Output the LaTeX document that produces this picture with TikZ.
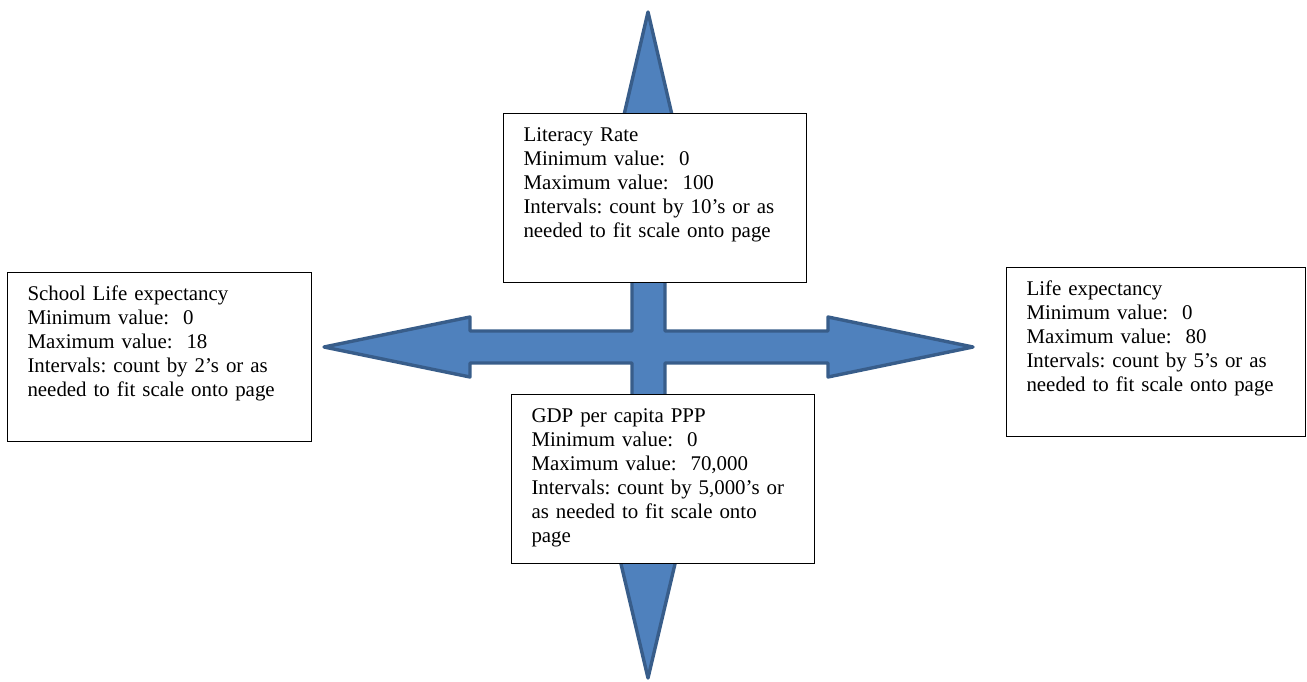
\documentclass[tikz,border=0pt]{standalone}
\usepackage{fontspec}
\setmainfont{Liberation Serif}
\frenchspacing
\usepackage{tikz}
\usetikzlibrary{positioning}
\definecolor{crossfill}{HTML}{4F81BD}
\definecolor{crossline}{HTML}{385D8A}
\tikzset{
    crossarrow/.style={fill=crossfill, draw=crossline, line width=3.4pt, line join=round}, % the four way arrow
    infobox/.style={draw=black, line width=1pt, fill=white, anchor=north west, align=left,
        text width=263pt, inner xsep=20pt, inner ysep=0pt,
        text height=28pt, text depth=141pt, % keeps the text at the top of the box
        font=\fontsize{20.9}{24}\selectfont},
}
\begin{document}
\begin{tikzpicture}[x=1pt, y=-1pt]
    \useasboundingbox (0,0) rectangle (1307,682);
    % the arrow pointing four ways
    \draw[crossarrow] (648,12) -- (679,145) -- (665,145) -- (665,331) -- (828,331) -- (828,317)
        -- (973,347) -- (828,377) -- (828,363) -- (665,363) -- (665,547) -- (679,547)
        -- (648,678) -- (617,547) -- (632,547) -- (632,363) -- (470,363) -- (470,377)
        -- (324,347) -- (470,317) -- (470,331) -- (632,331) -- (632,145) -- (617,145) -- cycle;
    % the four boxes
    \node[infobox] (lit) at (503,113) {Literacy Rate\\Minimum value:\ \ 0\\Maximum value:\ \ 100\\Intervals: count by 10’s or as\\needed to fit scale onto page};
    \node[infobox, text width=264pt] (school) at (7,272) {School Life expectancy\\Minimum value:\ \ 0\\Maximum value:\ \ 18\\Intervals: count by 2’s or as\\needed to fit scale onto page};
    \node[infobox, text width=259pt] (life) at (1006,267) {Life expectancy\\Minimum value:\ \ 0\\Maximum value:\ \ 80\\Intervals: count by 5’s or as\\needed to fit scale onto page};
    \node[infobox] (gdp) at (511,394) {GDP per capita PPP\\Minimum value:\ \ 0\\Maximum value:\ \ 70,000\\Intervals: count by 5,000’s or\\as needed to fit scale onto\\page};
\end{tikzpicture}
\end{document}
